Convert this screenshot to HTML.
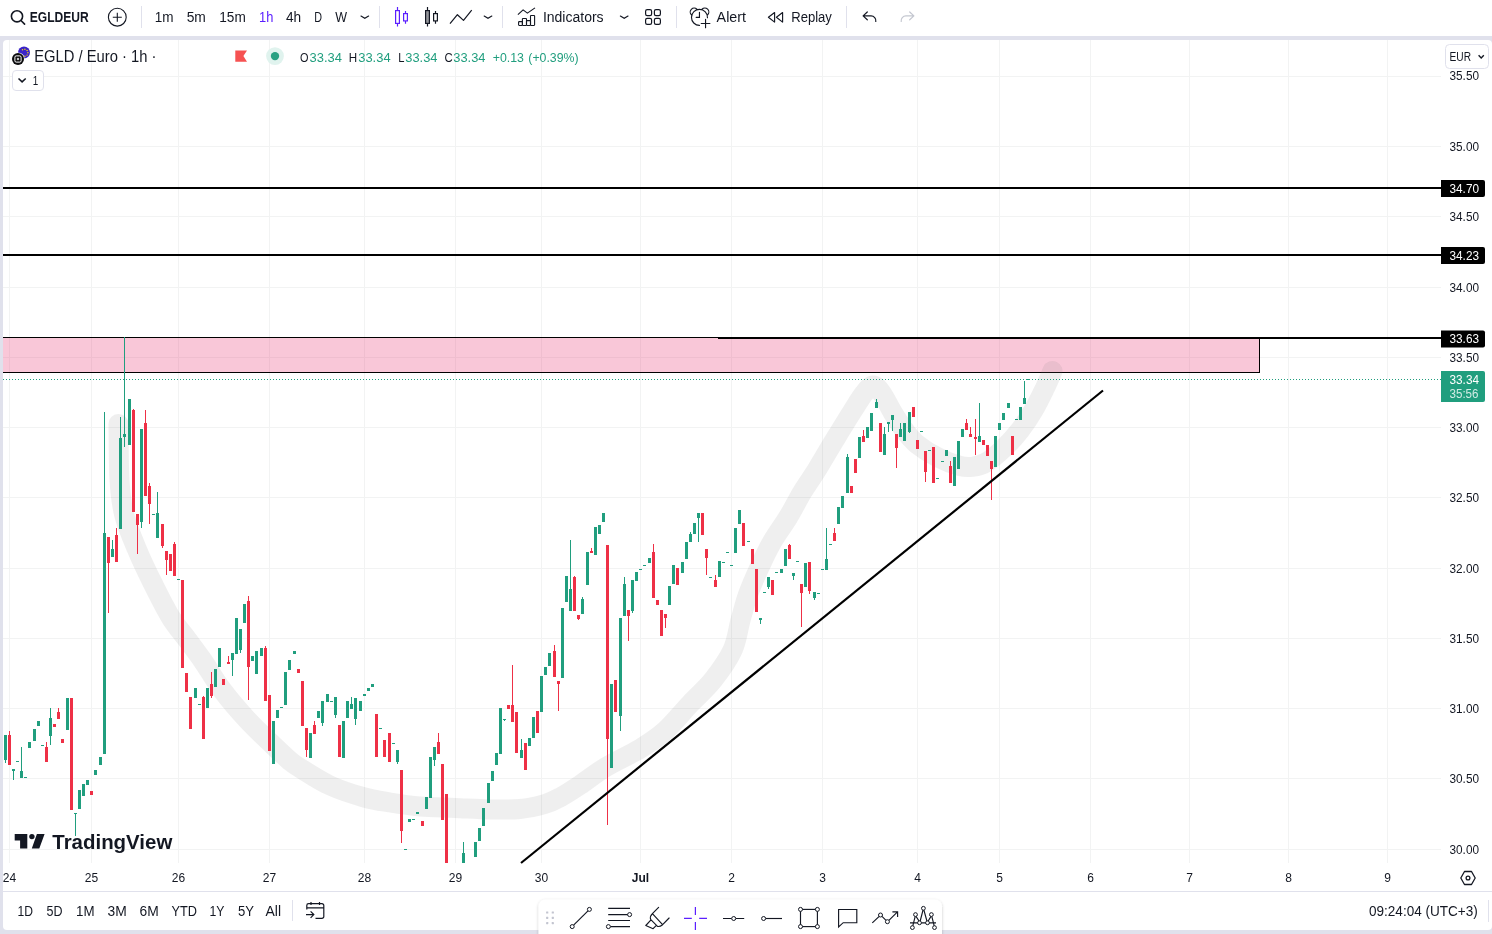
<!DOCTYPE html>
<html lang="en"><head><meta charset="utf-8"><title>EGLDEUR 33.34 — TradingView</title>
<style>
html,body{margin:0;padding:0}
body{width:1492px;height:934px;overflow:hidden;background:#e0e1ec;position:relative;font-family:"Liberation Sans", sans-serif;color:#131722}
.top{position:absolute;left:0;top:0;width:1492px;height:36px;background:#fff}
.pane{position:absolute;left:3px;top:40px;width:1489px;height:890px;background:#fff;border-radius:4px}
svg{position:absolute;display:block;will-change:transform}
svg.chart{left:0;top:0}
svg.tb{left:0;top:0}
svg.bt{left:0;top:891px}
svg.dt{left:530px;top:890px}
text{white-space:pre}
</style></head><body>
<div class="top"></div>
<div class="pane"></div>
<svg class="chart" width="1492" height="934" viewBox="0 0 1492 934" font-family='"Liberation Sans", sans-serif'>
<path d="M9.5 40V863 M91.5 40V863 M178.5 40V863 M269.5 40V863 M364.5 40V863 M455.5 40V863 M541.5 40V863 M640.5 40V863 M731.5 40V863 M822.5 40V863 M917.5 40V863 M999.5 40V863 M1090.5 40V863 M1189.5 40V863 M1288.5 40V863 M1387.5 40V863 M3 76.5H1441 M3 146.5H1441 M3 216.5H1441 M3 287.5H1441 M3 357.5H1441 M3 427.5H1441 M3 497.5H1441 M3 568.5H1441 M3 638.5H1441 M3 708.5H1441 M3 778.5H1441 M3 849.5H1441" stroke="rgba(42,56,57,0.06)" stroke-width="1" fill="none" shape-rendering="crispEdges"/>
<clipPath id="pane"><rect x="3" y="40" width="1438" height="823"/></clipPath>
<rect x="-6.5" y="337.5" width="1266" height="35" fill="rgba(233,30,99,0.25)" stroke="#000" stroke-width="1" shape-rendering="crispEdges" clip-path="url(#pane)"/>
<path d="M118.5 424.0C118.7 433.3 118.6 465.0 119.5 480.0C120.4 495.0 121.2 502.6 124.0 514.0C126.8 525.4 131.8 537.0 136.6 548.5C141.3 560.0 146.8 571.4 152.5 582.8C158.2 594.2 164.7 607.5 170.5 617.0C176.3 626.5 182.2 632.7 187.6 640.0C193.0 647.3 197.4 652.8 203.0 661.0C208.6 669.2 214.1 679.2 221.4 689.0C228.7 698.8 238.4 710.2 247.0 719.5C255.6 728.8 265.6 738.1 272.8 745.0C280.0 751.9 285.5 757.2 290.0 761.0C294.5 764.8 293.3 763.9 300.0 768.0C306.7 772.1 319.2 780.6 330.0 785.5C340.8 790.4 354.5 794.7 364.5 797.5C374.5 800.3 380.8 801.0 390.0 802.5C399.2 804.0 409.2 805.6 420.0 806.5C430.8 807.4 443.3 807.5 455.0 808.0C466.7 808.5 479.2 809.3 490.0 809.5C500.8 809.7 510.8 809.9 520.0 809.0C529.2 808.1 538.3 805.9 545.0 804.0C551.7 802.1 554.2 800.7 560.0 797.5C565.8 794.3 572.3 790.1 580.0 785.0C587.7 779.9 595.9 773.1 606.0 767.0C616.1 760.9 630.7 754.5 640.5 748.5C650.3 742.5 656.8 738.4 665.0 731.0C673.2 723.6 682.0 712.5 690.0 704.0C698.0 695.5 705.9 689.0 713.0 680.0C720.1 671.0 728.0 660.0 732.6 650.0C737.2 640.0 738.0 629.1 740.6 619.8C743.2 610.5 745.1 602.6 748.2 594.0C751.3 585.4 755.1 576.9 759.0 568.4C762.9 559.9 766.6 551.6 771.5 543.0C776.4 534.4 783.1 525.6 788.3 517.0C793.5 508.4 798.0 499.2 802.7 491.4C807.4 483.6 811.5 478.4 816.7 470.0C821.9 461.6 828.0 450.8 834.0 441.0C840.0 431.2 847.5 418.9 852.5 411.0C857.5 403.1 860.6 397.8 864.0 393.5C867.4 389.2 870.0 385.5 873.0 385.5C876.0 385.5 878.7 388.9 882.0 393.5C885.3 398.1 889.2 406.8 893.0 413.0C896.8 419.2 900.9 425.8 905.0 431.0C909.1 436.2 912.1 440.2 917.4 444.5C922.7 448.8 929.9 453.4 937.0 457.0C944.1 460.6 954.1 464.4 960.0 466.0C965.9 467.6 968.0 467.4 972.3 466.8C976.6 466.2 980.7 465.6 986.0 462.5C991.3 459.4 998.3 453.4 1004.0 448.0C1009.7 442.6 1015.2 436.4 1020.2 430.0C1025.2 423.6 1029.9 416.4 1034.0 409.4C1038.1 402.4 1041.9 394.4 1045.0 388.0C1048.1 381.6 1051.2 373.8 1052.5 371.0" fill="none" stroke="rgba(110,110,110,0.115)" stroke-width="20" stroke-linecap="round" stroke-linejoin="round"/>
<path d="M5 735h1V763h-1ZM4 735h3V760h-3ZM13 769h1V780h-1ZM12 769h3V771h-3ZM16 761h3V762h-3ZM21 747h1V778h-1ZM20 771h3V778h-3ZM24 777h3V778h-3ZM29 742h1V748h-1ZM28 742h3V748h-3ZM34 729h1V741h-1ZM33 729h3V741h-3ZM38 721h1V726h-1ZM37 721h3V726h-3ZM41 745h3V746h-3ZM50 708h1V745h-1ZM49 718h3V736h-3ZM67 698h1V730h-1ZM66 698h3V730h-3ZM75 813h1V836h-1ZM74 813h3V814h-3ZM79 790h1V809h-1ZM78 790h3V809h-3ZM83 784h1V796h-1ZM82 784h3V796h-3ZM87 780h1V785h-1ZM86 780h3V785h-3ZM95 770h1V775h-1ZM94 770h3V775h-3ZM100 757h1V765h-1ZM99 757h3V765h-3ZM104 412h1V754h-1ZM103 533h3V754h-3ZM112 540h1V557h-1ZM111 549h3V557h-3ZM120 417h1V529h-1ZM119 438h3V529h-3ZM124 337h1V447h-1ZM123 434h3V437h-3ZM129 399h1V445h-1ZM128 399h3V445h-3ZM141 429h1V528h-1ZM140 429h3V522h-3ZM152 514h3V515h-3ZM157 492h1V538h-1ZM156 513h3V538h-3ZM177 579h3V580h-3ZM195 688h1V698h-1ZM194 688h3V698h-3ZM198 704h3V705h-3ZM207 688h1V708h-1ZM206 688h3V708h-3ZM215 669h1V687h-1ZM214 669h3V687h-3ZM219 648h1V667h-1ZM218 648h3V667h-3ZM232 653h1V676h-1ZM231 653h3V660h-3ZM236 618h1V654h-1ZM235 618h3V654h-3ZM240 629h1V653h-1ZM239 629h3V650h-3ZM244 604h1V623h-1ZM243 604h3V623h-3ZM252 656h1V661h-1ZM251 656h3V661h-3ZM256 651h1V674h-1ZM255 651h3V674h-3ZM261 648h1V656h-1ZM260 648h3V656h-3ZM273 721h1V764h-1ZM272 721h3V764h-3ZM277 710h1V718h-1ZM276 710h3V718h-3ZM280 707h3V708h-3ZM285 672h1V705h-1ZM284 672h3V705h-3ZM289 660h1V670h-1ZM288 660h3V670h-3ZM294 651h1V654h-1ZM293 651h3V654h-3ZM310 733h1V758h-1ZM309 733h3V758h-3ZM318 711h1V718h-1ZM317 711h3V718h-3ZM322 701h1V726h-1ZM321 701h3V723h-3ZM327 694h1V702h-1ZM326 694h3V702h-3ZM330 701h3V702h-3ZM335 697h1V718h-1ZM334 697h3V715h-3ZM343 721h1V758h-1ZM342 721h3V758h-3ZM347 701h1V718h-1ZM346 701h3V718h-3ZM351 697h1V709h-1ZM350 704h3V709h-3ZM355 698h1V725h-1ZM354 698h3V719h-3ZM360 701h1V711h-1ZM359 701h3V711h-3ZM364 694h1V696h-1ZM363 694h3V696h-3ZM368 688h1V691h-1ZM367 688h3V691h-3ZM372 684h1V687h-1ZM371 684h3V687h-3ZM379 728h3V729h-3ZM392 743h3V744h-3ZM397 750h1V764h-1ZM396 750h3V762h-3ZM404 849h3V850h-3ZM409 819h1V822h-1ZM408 819h3V822h-3ZM412 819h3V820h-3ZM417 812h1V814h-1ZM416 812h3V814h-3ZM426 797h1V809h-1ZM425 797h3V809h-3ZM430 757h1V798h-1ZM429 757h3V798h-3ZM434 747h1V766h-1ZM433 747h3V760h-3ZM463 842h1V863h-1ZM462 853h3V863h-3ZM475 842h1V857h-1ZM474 842h3V857h-3ZM479 828h1V841h-1ZM478 828h3V841h-3ZM483 808h1V826h-1ZM482 808h3V826h-3ZM488 783h1V803h-1ZM487 783h3V803h-3ZM492 771h1V781h-1ZM491 771h3V781h-3ZM496 753h1V765h-1ZM495 753h3V765h-3ZM500 708h1V754h-1ZM499 708h3V754h-3ZM504 719h1V721h-1ZM503 719h3V720h-3ZM521 739h1V758h-1ZM520 750h3V758h-3ZM529 738h1V746h-1ZM528 738h3V746h-3ZM533 717h1V738h-1ZM532 717h3V738h-3ZM541 676h1V712h-1ZM540 676h3V712h-3ZM545 667h1V675h-1ZM544 667h3V675h-3ZM549 653h1V666h-1ZM548 653h3V666h-3ZM562 608h1V678h-1ZM561 608h3V678h-3ZM566 576h1V602h-1ZM565 576h3V602h-3ZM570 540h1V611h-1ZM569 589h3V611h-3ZM582 597h1V614h-1ZM581 599h3V614h-3ZM587 552h1V585h-1ZM586 552h3V585h-3ZM595 527h1V555h-1ZM594 527h3V555h-3ZM599 525h1V534h-1ZM598 525h3V534h-3ZM603 513h1V522h-1ZM602 513h3V522h-3ZM611 684h1V768h-1ZM610 684h3V768h-3ZM620 618h1V731h-1ZM619 618h3V716h-3ZM624 577h1V616h-1ZM623 584h3V616h-3ZM632 580h1V613h-1ZM631 580h3V611h-3ZM636 572h1V581h-1ZM635 572h3V581h-3ZM639 569h3V570h-3ZM643 565h3V566h-3ZM649 558h1V563h-1ZM648 558h3V563h-3ZM669 586h1V605h-1ZM668 586h3V605h-3ZM673 565h1V584h-1ZM672 565h3V584h-3ZM682 562h1V573h-1ZM681 562h3V573h-3ZM686 542h1V559h-1ZM685 542h3V559h-3ZM690 532h1V542h-1ZM689 534h3V542h-3ZM694 523h1V534h-1ZM693 523h3V534h-3ZM698 513h1V542h-1ZM697 513h3V518h-3ZM709 577h3V578h-3ZM719 561h1V577h-1ZM718 561h3V577h-3ZM722 562h3V563h-3ZM726 552h3V553h-3ZM730 565h3V566h-3ZM735 528h1V553h-1ZM734 528h3V553h-3ZM739 510h1V524h-1ZM738 510h3V524h-3ZM747 541h3V542h-3ZM760 618h1V624h-1ZM759 618h3V620h-3ZM763 592h3V593h-3ZM768 577h1V589h-1ZM767 577h3V587h-3ZM775 572h3V573h-3ZM781 569h1V573h-1ZM780 569h3V573h-3ZM785 549h1V566h-1ZM784 549h3V566h-3ZM793 573h1V580h-1ZM792 573h3V576h-3ZM796 561h3V562h-3ZM805 563h1V587h-1ZM804 563h3V587h-3ZM814 592h1V600h-1ZM813 592h3V598h-3ZM817 593h3V594h-3ZM821 569h3V570h-3ZM826 528h1V570h-1ZM825 559h3V570h-3ZM829 544h3V545h-3ZM838 507h1V524h-1ZM837 507h3V524h-3ZM842 496h1V508h-1ZM841 496h3V508h-3ZM847 454h1V493h-1ZM846 457h3V493h-3ZM859 437h1V458h-1ZM858 437h3V458h-3ZM867 427h1V438h-1ZM866 427h3V438h-3ZM871 413h1V431h-1ZM870 413h3V431h-3ZM876 399h1V408h-1ZM875 402h3V408h-3ZM884 427h1V455h-1ZM883 434h3V455h-3ZM888 422h1V432h-1ZM887 422h3V424h-3ZM892 415h1V431h-1ZM891 415h3V420h-3ZM900 423h1V437h-1ZM899 429h3V437h-3ZM904 423h1V441h-1ZM903 423h3V441h-3ZM909 412h1V433h-1ZM908 412h3V432h-3ZM920 431h3V432h-3ZM928 450h3V451h-3ZM936 478h3V479h-3ZM941 461h3V462h-3ZM946 450h1V456h-1ZM945 450h3V456h-3ZM954 457h1V486h-1ZM953 457h3V486h-3ZM958 441h1V469h-1ZM957 441h3V469h-3ZM962 429h1V437h-1ZM961 429h3V437h-3ZM979 403h1V442h-1ZM978 436h3V442h-3ZM995 436h1V467h-1ZM994 436h3V467h-3ZM999 423h1V430h-1ZM998 423h3V430h-3ZM1003 413h1V420h-1ZM1002 413h3V420h-3ZM1008 403h1V408h-1ZM1007 403h3V408h-3ZM1015 419h3V420h-3ZM1020 407h1V420h-1ZM1019 407h3V420h-3ZM1024 381h1V404h-1ZM1023 398h3V404h-3Z" fill="#209e7e" shape-rendering="crispEdges"/>
<path d="M9 731h1V765h-1ZM8 735h3V765h-3ZM46 742h1V762h-1ZM45 747h3V762h-3ZM54 724h1V727h-1ZM53 724h3V727h-3ZM58 708h1V719h-1ZM57 712h3V719h-3ZM62 739h1V743h-1ZM61 739h3V743h-3ZM71 698h1V810h-1ZM70 698h3V810h-3ZM91 791h1V795h-1ZM90 791h3V795h-3ZM108 537h1V613h-1ZM107 537h3V563h-3ZM116 528h1V562h-1ZM115 535h3V562h-3ZM133 409h1V512h-1ZM132 410h3V512h-3ZM137 514h1V554h-1ZM136 514h3V525h-3ZM145 410h1V496h-1ZM144 423h3V496h-3ZM149 483h1V524h-1ZM148 486h3V504h-3ZM162 524h1V548h-1ZM161 524h3V546h-3ZM166 551h1V575h-1ZM165 551h3V560h-3ZM170 554h1V571h-1ZM169 554h3V571h-3ZM174 542h1V576h-1ZM173 544h3V576h-3ZM182 580h1V668h-1ZM181 580h3V668h-3ZM186 673h1V692h-1ZM185 673h3V692h-3ZM190 697h1V729h-1ZM189 697h3V729h-3ZM203 696h1V739h-1ZM202 697h3V739h-3ZM211 672h1V698h-1ZM210 684h3V696h-3ZM223 679h1V685h-1ZM222 679h3V685h-3ZM228 656h1V664h-1ZM227 662h3V664h-3ZM248 596h1V700h-1ZM247 601h3V667h-3ZM265 646h1V701h-1ZM264 648h3V701h-3ZM269 695h1V751h-1ZM268 695h3V751h-3ZM298 669h1V673h-1ZM297 669h3V673h-3ZM302 681h1V726h-1ZM301 681h3V726h-3ZM306 728h1V757h-1ZM305 728h3V750h-3ZM314 721h1V734h-1ZM313 725h3V734h-3ZM339 725h1V757h-1ZM338 725h3V757h-3ZM376 714h1V757h-1ZM375 714h3V757h-3ZM384 740h1V757h-1ZM383 740h3V757h-3ZM389 733h1V762h-1ZM388 733h3V762h-3ZM401 770h1V843h-1ZM400 770h3V831h-3ZM422 821h1V826h-1ZM421 821h3V826h-3ZM438 733h1V754h-1ZM437 742h3V754h-3ZM442 764h1V820h-1ZM441 764h3V820h-3ZM446 794h1V863h-1ZM445 794h3V863h-3ZM508 705h1V709h-1ZM507 705h3V709h-3ZM512 665h1V722h-1ZM511 705h3V722h-3ZM516 712h1V753h-1ZM515 712h3V753h-3ZM525 743h1V770h-1ZM524 743h3V770h-3ZM537 711h1V733h-1ZM536 711h3V733h-3ZM554 645h1V677h-1ZM553 651h3V677h-3ZM558 681h1V711h-1ZM557 681h3V684h-3ZM574 576h1V611h-1ZM573 577h3V611h-3ZM578 615h1V620h-1ZM577 615h3V619h-3ZM591 548h1V553h-1ZM590 551h3V553h-3ZM607 545h1V825h-1ZM606 545h3V739h-3ZM615 680h1V712h-1ZM614 680h3V712h-3ZM628 610h1V641h-1ZM627 610h3V616h-3ZM653 544h1V598h-1ZM652 552h3V598h-3ZM657 600h1V605h-1ZM656 600h3V605h-3ZM661 610h1V636h-1ZM660 610h3V636h-3ZM665 614h1V628h-1ZM664 614h3V618h-3ZM677 568h1V585h-1ZM676 568h3V585h-3ZM702 513h1V535h-1ZM701 513h3V535h-3ZM706 549h1V575h-1ZM705 549h3V558h-3ZM715 575h1V587h-1ZM714 580h3V587h-3ZM743 523h1V546h-1ZM742 523h3V546h-3ZM752 549h1V564h-1ZM751 549h3V564h-3ZM756 569h1V612h-1ZM755 569h3V612h-3ZM772 580h1V595h-1ZM771 580h3V595h-3ZM789 544h1V559h-1ZM788 545h3V559h-3ZM801 584h1V627h-1ZM800 584h3V593h-3ZM809 562h1V594h-1ZM808 562h3V591h-3ZM834 528h1V541h-1ZM833 533h3V541h-3ZM851 486h1V493h-1ZM850 486h3V493h-3ZM855 459h1V473h-1ZM854 459h3V473h-3ZM863 430h1V442h-1ZM862 436h3V442h-3ZM880 423h1V452h-1ZM879 423h3V452h-3ZM896 434h1V468h-1ZM895 434h3V448h-3ZM913 407h1V417h-1ZM912 407h3V417h-3ZM917 440h1V449h-1ZM916 440h3V449h-3ZM925 451h1V482h-1ZM924 451h3V472h-3ZM933 447h1V483h-1ZM932 447h3V483h-3ZM950 461h1V483h-1ZM949 466h3V483h-3ZM966 419h1V430h-1ZM965 423h3V430h-3ZM970 427h1V437h-1ZM969 434h3V437h-3ZM975 419h1V455h-1ZM974 437h3V439h-3ZM983 440h1V445h-1ZM982 440h3V445h-3ZM987 445h1V456h-1ZM986 445h3V456h-3ZM991 461h1V500h-1ZM990 461h3V469h-3ZM1012 436h1V455h-1ZM1011 436h3V455h-3Z" fill="#ee3046" shape-rendering="crispEdges"/>
<path d="M3 188H1441M3 255H1441M718 338H1441" stroke="#000" stroke-width="2" fill="none" shape-rendering="crispEdges"/>
<path d="M521 863L1103 390.5" stroke="#000" stroke-width="2.2" fill="none"/>
<path d="M3 379.5H1441" stroke="#209e7e" stroke-width="1" stroke-dasharray="1 2" fill="none" shape-rendering="crispEdges"/>
<rect x="1026" y="379" width="4" height="1" fill="#209e7e" shape-rendering="crispEdges"/>
<text x="1449.5" y="80.1" font-size="12" fill="#131722" textLength="29.5" lengthAdjust="spacingAndGlyphs">35.50</text>
<text x="1449.5" y="150.8" font-size="12" fill="#131722" textLength="29.5" lengthAdjust="spacingAndGlyphs">35.00</text>
<text x="1449.5" y="220.8" font-size="12" fill="#131722" textLength="29.5" lengthAdjust="spacingAndGlyphs">34.50</text>
<text x="1449.5" y="291.8" font-size="12" fill="#131722" textLength="29.5" lengthAdjust="spacingAndGlyphs">34.00</text>
<text x="1449.5" y="361.8" font-size="12" fill="#131722" textLength="29.5" lengthAdjust="spacingAndGlyphs">33.50</text>
<text x="1449.5" y="431.8" font-size="12" fill="#131722" textLength="29.5" lengthAdjust="spacingAndGlyphs">33.00</text>
<text x="1449.5" y="501.8" font-size="12" fill="#131722" textLength="29.5" lengthAdjust="spacingAndGlyphs">32.50</text>
<text x="1449.5" y="572.8" font-size="12" fill="#131722" textLength="29.5" lengthAdjust="spacingAndGlyphs">32.00</text>
<text x="1449.5" y="642.8" font-size="12" fill="#131722" textLength="29.5" lengthAdjust="spacingAndGlyphs">31.50</text>
<text x="1449.5" y="712.8" font-size="12" fill="#131722" textLength="29.5" lengthAdjust="spacingAndGlyphs">31.00</text>
<text x="1449.5" y="782.8" font-size="12" fill="#131722" textLength="29.5" lengthAdjust="spacingAndGlyphs">30.50</text>
<text x="1449.5" y="853.8" font-size="12" fill="#131722" textLength="29.5" lengthAdjust="spacingAndGlyphs">30.00</text>
<path d="M1441 180h42a2 2 0 0 1 2 2v13a2 2 0 0 1 -2 2h-42z" fill="#000"/>
<text x="1449.5" y="192.6" font-size="12" fill="#fff" textLength="29.5" lengthAdjust="spacingAndGlyphs">34.70</text>
<path d="M1441 247h42a2 2 0 0 1 2 2v13a2 2 0 0 1 -2 2h-42z" fill="#000"/>
<text x="1449.5" y="259.6" font-size="12" fill="#fff" textLength="29.5" lengthAdjust="spacingAndGlyphs">34.23</text>
<path d="M1441 330.5h42a2 2 0 0 1 2 2v13a2 2 0 0 1 -2 2h-42z" fill="#000"/>
<text x="1449.5" y="343.1" font-size="12" fill="#fff" textLength="29.5" lengthAdjust="spacingAndGlyphs">33.63</text>
<path d="M1441 371h42a2 2 0 0 1 2 2v27a2 2 0 0 1 -2 2h-42z" fill="#209e7e"/>
<text x="1449.5" y="384.3" font-size="12" fill="#fff" textLength="29.5" lengthAdjust="spacingAndGlyphs">33.34</text>
<text x="1449.5" y="398.3" font-size="12" fill="rgba(255,255,255,0.8)" textLength="29" lengthAdjust="spacingAndGlyphs">35:56</text>
<rect x="1445.5" y="44.5" width="43" height="24" rx="4" fill="#fff" stroke="#e0e1ec"/>
<text x="1449.5" y="61" font-size="12" fill="#131722" textLength="21.5" lengthAdjust="spacingAndGlyphs">EUR</text>
<path d="M1478.6 55.3l2.6 2.6l2.6 -2.6" stroke="#131722" stroke-width="1.4" fill="none"/>
<text x="9.5" y="882" font-size="12" fill="#131722" text-anchor="middle">24</text>
<text x="91.5" y="882" font-size="12" fill="#131722" text-anchor="middle">25</text>
<text x="178.5" y="882" font-size="12" fill="#131722" text-anchor="middle">26</text>
<text x="269.5" y="882" font-size="12" fill="#131722" text-anchor="middle">27</text>
<text x="364.5" y="882" font-size="12" fill="#131722" text-anchor="middle">28</text>
<text x="455.5" y="882" font-size="12" fill="#131722" text-anchor="middle">29</text>
<text x="541.5" y="882" font-size="12" fill="#131722" text-anchor="middle">30</text>
<text x="640.5" y="882" font-size="12" fill="#131722" font-weight="bold" text-anchor="middle">Jul</text>
<text x="731.5" y="882" font-size="12" fill="#131722" text-anchor="middle">2</text>
<text x="822.5" y="882" font-size="12" fill="#131722" text-anchor="middle">3</text>
<text x="917.5" y="882" font-size="12" fill="#131722" text-anchor="middle">4</text>
<text x="999.5" y="882" font-size="12" fill="#131722" text-anchor="middle">5</text>
<text x="1090.5" y="882" font-size="12" fill="#131722" text-anchor="middle">6</text>
<text x="1189.5" y="882" font-size="12" fill="#131722" text-anchor="middle">7</text>
<text x="1288.5" y="882" font-size="12" fill="#131722" text-anchor="middle">8</text>
<text x="1387.5" y="882" font-size="12" fill="#131722" text-anchor="middle">9</text>
<path d="M1464.5 871.5h7l3.7 6.5l-3.7 6.5h-7l-3.7 -6.5z" stroke="#131722" stroke-width="1.3" fill="none" stroke-linejoin="round"/><circle cx="1468" cy="878" r="1.9" stroke="#131722" stroke-width="1.3" fill="none"/>
<path d="M3 891.5H1492" stroke="#e0e1ec" stroke-width="1" shape-rendering="crispEdges"/>
<path d="M14.7 834h12.6v14.5h-7.2v-8.1h-5.4zM36.9 834h7.7l-5.3 14.5h-7.5z" fill="#131722"/><circle cx="31.9" cy="836.6" r="2.7" fill="#131722"/>
<text x="52.3" y="848.5" font-size="20" fill="#131722" textLength="120" lengthAdjust="spacingAndGlyphs" font-weight="bold">TradingView</text>
<circle cx="24" cy="52.5" r="6" fill="#3a23c9"/>
<circle cx="22.5" cy="49.7" r="0.7" fill="#ffe000"/>
<circle cx="24.9" cy="49.3" r="0.7" fill="#ffe000"/>
<circle cx="27.1" cy="50.5" r="0.7" fill="#ffe000"/>
<circle cx="27.9" cy="52.8" r="0.7" fill="#ffe000"/>
<circle cx="27.1" cy="55.1" r="0.7" fill="#ffe000"/>
<circle cx="24.9" cy="56.3" r="0.7" fill="#ffe000"/>
<circle cx="18" cy="59" r="6.6" fill="#fff"/><circle cx="18" cy="59" r="6" fill="#0b0b0d"/>
<rect x="14.9" y="55.9" width="6.2" height="6.2" rx="1.3" stroke="#fff" stroke-width="1" fill="none"/><rect x="16.9" y="57.9" width="2.2" height="2.2" fill="#fff" opacity="0.75"/>
<text x="34.2" y="61.7" font-size="16" fill="#131722" textLength="122.2" lengthAdjust="spacingAndGlyphs">EGLD / Euro · 1h ·</text>
<path d="M235.3 50.5h11.7l-3.6 5.6l3.6 5.6h-11.7z" fill="#f65252"/>
<circle cx="275" cy="56.1" r="8.9" fill="#e0f3ee"/><circle cx="275" cy="56.1" r="4.2" fill="#28a182"/>
<text x="300" y="61.7" font-size="13" fill="#131722" textLength="8.5" lengthAdjust="spacingAndGlyphs">O</text>
<text x="309.5" y="61.7" font-size="13" fill="#209e7e" textLength="32.4" lengthAdjust="spacingAndGlyphs">33.34</text>
<text x="348.7" y="61.7" font-size="13" fill="#131722" textLength="8.4" lengthAdjust="spacingAndGlyphs">H</text>
<text x="358.2" y="61.7" font-size="13" fill="#209e7e" textLength="32.4" lengthAdjust="spacingAndGlyphs">33.34</text>
<text x="398.2" y="61.7" font-size="13" fill="#131722" textLength="6.2" lengthAdjust="spacingAndGlyphs">L</text>
<text x="405.3" y="61.7" font-size="13" fill="#209e7e" textLength="32.2" lengthAdjust="spacingAndGlyphs">33.34</text>
<text x="444.4" y="61.7" font-size="13" fill="#131722" textLength="8.2" lengthAdjust="spacingAndGlyphs">C</text>
<text x="453.3" y="61.7" font-size="13" fill="#209e7e" textLength="32.2" lengthAdjust="spacingAndGlyphs">33.34</text>
<text x="492.7" y="61.7" font-size="13" fill="#209e7e" textLength="31.2" lengthAdjust="spacingAndGlyphs">+0.13</text>
<text x="528.3" y="61.7" font-size="13" fill="#209e7e" textLength="50.3" lengthAdjust="spacingAndGlyphs">(+0.39%)</text>
<rect x="12.5" y="70.5" width="31" height="20" rx="3.5" fill="#fff" stroke="#e0e1ec"/>
<path d="M18.5 78.5l3.6 3.4l3.6 -3.4" stroke="#131722" stroke-width="1.5" fill="none"/>
<text x="32.8" y="85" font-size="13" fill="#131722" textLength="5.5" lengthAdjust="spacingAndGlyphs">1</text>
</svg>
<svg class="tb" width="1492" height="36" viewBox="0 0 1492 36" font-family='"Liberation Sans", sans-serif'>
<circle cx="17" cy="16.3" r="5.6" stroke="#131722" stroke-width="1.6" fill="none"/><path d="M21 20.5l3.6 3.6" stroke="#131722" stroke-width="1.6" stroke-linecap="round"/>
<text x="29.8" y="21.8" font-size="14" fill="#131722" textLength="59" lengthAdjust="spacingAndGlyphs" font-weight="bold">EGLDEUR</text>
<circle cx="117.3" cy="17.2" r="8.9" stroke="#131722" stroke-width="1.1" fill="none"/><path d="M112.8 17.2h9M117.3 12.7v9" stroke="#131722" stroke-width="1.1"/>
<path d="M141.5 6V28" stroke="#e0e1ec" stroke-width="1" shape-rendering="crispEdges"/>
<path d="M379.5 6V28" stroke="#e0e1ec" stroke-width="1" shape-rendering="crispEdges"/>
<path d="M502.5 6V28" stroke="#e0e1ec" stroke-width="1" shape-rendering="crispEdges"/>
<path d="M676.5 6V28" stroke="#e0e1ec" stroke-width="1" shape-rendering="crispEdges"/>
<path d="M846.5 6V28" stroke="#e0e1ec" stroke-width="1" shape-rendering="crispEdges"/>
<text x="154.8" y="21.8" font-size="14" fill="#131722" textLength="18.8" lengthAdjust="spacingAndGlyphs">1m</text>
<text x="186.7" y="21.8" font-size="14" fill="#131722" textLength="19.2" lengthAdjust="spacingAndGlyphs">5m</text>
<text x="219.3" y="21.8" font-size="14" fill="#131722" textLength="26.5" lengthAdjust="spacingAndGlyphs">15m</text>
<text x="259" y="21.8" font-size="14" fill="#5b1fff" textLength="14.3" lengthAdjust="spacingAndGlyphs">1h</text>
<text x="286" y="21.8" font-size="14" fill="#131722" textLength="15.2" lengthAdjust="spacingAndGlyphs">4h</text>
<text x="314.3" y="21.8" font-size="14" fill="#131722" textLength="7.8" lengthAdjust="spacingAndGlyphs">D</text>
<text x="335.2" y="21.8" font-size="14" fill="#131722" textLength="11.8" lengthAdjust="spacingAndGlyphs">W</text>
<path d="M361.0 16.099999999999998l3.8 2.2l3.8 -2.2" stroke="#131722" stroke-width="1.2" fill="none" stroke-linecap="round"/>
<path d="M484.2 16.099999999999998l3.8 2.2l3.8 -2.2" stroke="#131722" stroke-width="1.2" fill="none" stroke-linecap="round"/>
<path d="M620.4000000000001 16.099999999999998l3.8 2.2l3.8 -2.2" stroke="#131722" stroke-width="1.2" fill="none" stroke-linecap="round"/>
<path d="M397.5 7v3.5M397.5 23.5v3M405.5 11v2.5M405.5 21v2.7" stroke="#5b1fff" stroke-width="1.2"/><rect x="395.6" y="10.6" width="3.8" height="12.8" stroke="#5b1fff" stroke-width="1.2" fill="none"/><rect x="403.6" y="13.6" width="3.8" height="7.3" stroke="#5b1fff" stroke-width="1.2" fill="none"/>
<path d="M427.5 7v3.5M427.5 23.5v3M435.5 11v2.5M435.5 21v2.7" stroke="#131722" stroke-width="1.2"/><rect x="425.6" y="10.6" width="3.8" height="12.8" stroke="#131722" stroke-width="1.2" fill="rgba(19,23,34,0.45)"/><rect x="433.6" y="13.6" width="3.8" height="7.3" stroke="#131722" stroke-width="1.2" fill="none"/>
<path d="M450 23.7L457.4 14.7L463.5 20.4L471.7 10.1" stroke="#131722" stroke-width="1.2" fill="none" stroke-linejoin="round"/>
<path d="M517.9 14.7l5.2 -4.8l4.3 3.2l7.6 -5.2" stroke="#131722" stroke-width="1.15" fill="none" stroke-linejoin="round"/>
<rect x="518.6" y="21.6" width="3.8" height="3.85" rx="0.6" stroke="#131722" stroke-width="1.1" fill="none"/>
<rect x="522.4" y="18.5" width="4.1" height="6.95" rx="0.6" stroke="#131722" stroke-width="1.1" fill="none"/>
<rect x="526.5" y="20.6" width="4.0" height="4.85" rx="0.6" stroke="#131722" stroke-width="1.1" fill="none"/>
<rect x="530.5" y="15.5" width="4.1" height="9.95" rx="0.6" stroke="#131722" stroke-width="1.1" fill="none"/>
<text x="542.9" y="21.8" font-size="14" fill="#131722" textLength="60.7" lengthAdjust="spacingAndGlyphs">Indicators</text>
<rect x="645.6" y="9.6" width="6" height="6" rx="1.6" stroke="#131722" stroke-width="1.2" fill="none"/>
<rect x="654.4" y="9.6" width="6" height="6" rx="1.6" stroke="#131722" stroke-width="1.2" fill="none"/>
<rect x="645.6" y="18.4" width="6" height="6" rx="1.6" stroke="#131722" stroke-width="1.2" fill="none"/>
<rect x="654.4" y="18.4" width="6" height="6" rx="1.6" stroke="#131722" stroke-width="1.2" fill="none"/>
<path d="M699.46 25.4A8 8 0 1 1 707.46 17.7M691.4 14.85A3.9 3.9 0 0 1 696.9 9.2M702 9.2A3.9 3.9 0 0 1 707.65 14.85M699.46 12.3V17.4H696.2M701.2 23.46H709.9M705.56 19.35V27.7" stroke="#131722" stroke-width="1.15" fill="none" stroke-linecap="round"/>
<text x="716.6" y="21.8" font-size="14" fill="#131722" textLength="29.4" lengthAdjust="spacingAndGlyphs">Alert</text>
<path d="M774.6 12.5v9.6l-6.2 -4.8zM782.6 12.5v9.6l-6.2 -4.8z" stroke="#131722" stroke-width="1.15" fill="none" stroke-linejoin="round"/>
<text x="791.2" y="21.8" font-size="14" fill="#131722" textLength="40.7" lengthAdjust="spacingAndGlyphs">Replay</text>
<path d="M867.3 12l-4.2 3.9l4.2 3.9M863.4 15.9h7.6a4.8 4.8 0 0 1 4.8 5.6" stroke="#131722" stroke-width="1.2" fill="none" stroke-linecap="round" stroke-linejoin="round"/>
<path d="M909.7 12l4.2 3.9l-4.2 3.9M913.6 15.9h-7.6a4.8 4.8 0 0 0 -4.8 5.6" stroke="#c4c7d0" stroke-width="1.2" fill="none" stroke-linecap="round" stroke-linejoin="round"/>
</svg>
<svg class="bt" width="1492" height="43" viewBox="0 891 1492 43" font-family='"Liberation Sans", sans-serif'>
<text x="17.5" y="915.7" font-size="14" fill="#131722" textLength="15.5" lengthAdjust="spacingAndGlyphs">1D</text>
<text x="46.5" y="915.7" font-size="14" fill="#131722" textLength="16" lengthAdjust="spacingAndGlyphs">5D</text>
<text x="76" y="915.7" font-size="14" fill="#131722" textLength="18.5" lengthAdjust="spacingAndGlyphs">1M</text>
<text x="107.5" y="915.7" font-size="14" fill="#131722" textLength="19.2" lengthAdjust="spacingAndGlyphs">3M</text>
<text x="139.5" y="915.7" font-size="14" fill="#131722" textLength="19.2" lengthAdjust="spacingAndGlyphs">6M</text>
<text x="171.5" y="915.7" font-size="14" fill="#131722" textLength="25.5" lengthAdjust="spacingAndGlyphs">YTD</text>
<text x="209.5" y="915.7" font-size="14" fill="#131722" textLength="15" lengthAdjust="spacingAndGlyphs">1Y</text>
<text x="238" y="915.7" font-size="14" fill="#131722" textLength="16" lengthAdjust="spacingAndGlyphs">5Y</text>
<text x="265.5" y="915.7" font-size="14" fill="#131722" textLength="15.5" lengthAdjust="spacingAndGlyphs">All</text>
<path d="M292.5 900V921" stroke="#e0e1ec" stroke-width="1" shape-rendering="crispEdges"/>
<path d="M1488.5 900V922" stroke="#e0e1ec" stroke-width="1" shape-rendering="crispEdges"/>
<path d="M311 902v3M319.5 902v3M306.8 909.5v-4a1.8 1.8 0 0 1 1.8 -1.8h13.4a1.8 1.8 0 0 1 1.8 1.8v11a1.8 1.8 0 0 1 -1.8 1.8h-6.5M306.8 907.8h17M306 914.6h7.6M310.6 911.4l3.2 3.2l-3.2 3.2" stroke="#131722" stroke-width="1.2" fill="none"/>
<text x="1369" y="915.7" font-size="14" fill="#131722" textLength="108.8" lengthAdjust="spacingAndGlyphs">09:24:04 (UTC+3)</text>
</svg>
<svg class="dt" width="420" height="50" viewBox="530 890 420 50">
<defs><filter id="sh" x="-5%" y="-30%" width="110%" height="160%"><feDropShadow dx="0" dy="1" stdDeviation="1.6" flood-color="#000" flood-opacity="0.22"/></filter></defs>
<rect x="538.5" y="899.5" width="403.5" height="50" rx="7" fill="#fff" filter="url(#sh)"/>
<rect x="546.1" y="911.4" width="2.2" height="2.2" rx="0.4" fill="#c3c5d0"/>
<rect x="546.1" y="916.7" width="2.2" height="2.2" rx="0.4" fill="#c3c5d0"/>
<rect x="546.1" y="922.0" width="2.2" height="2.2" rx="0.4" fill="#c3c5d0"/>
<rect x="551.7" y="911.4" width="2.2" height="2.2" rx="0.4" fill="#c3c5d0"/>
<rect x="551.7" y="916.7" width="2.2" height="2.2" rx="0.4" fill="#c3c5d0"/>
<rect x="551.7" y="922.0" width="2.2" height="2.2" rx="0.4" fill="#c3c5d0"/>
<path d="M573.6 925.2L588 910.8" stroke="#131722" stroke-width="1.15" fill="none"/><circle cx="589.4" cy="909.4" r="2" stroke="#131722" stroke-width="1" fill="#fff"/><circle cx="572.2" cy="926.6" r="2" stroke="#131722" stroke-width="1" fill="#fff"/>
<path d="M608.2 908.4H630M608.2 914.6H628M608.2 920.5H630M610.4 926.6H630" stroke="#131722" stroke-width="1.15" fill="none"/><circle cx="629.6" cy="914.6" r="2" stroke="#131722" stroke-width="1" fill="#fff"/><circle cx="608.4" cy="926.6" r="2" stroke="#131722" stroke-width="1" fill="#fff"/>
<path d="M658.6 907.3L652.4 913.6L662.6 924.7M669.1 918L662.6 924.7C661 926 659 926.7 657.5 926.4L650.6 919.3C650 917.5 651 915 652.4 913.6M651 919.8L645.8 925.5L653.1 928.7L656.4 925.3" stroke="#131722" stroke-width="1.15" fill="none" stroke-linejoin="round" stroke-linecap="round"/>
<path d="M684 918.4h7.8M699.2 918.4h7.8M695.4 907v7.9M695.4 922v7.9" stroke="#5b1fff" stroke-width="1.2" fill="none"/>
<path d="M723 918.5h8.6M735.8 918.5h8.4" stroke="#131722" stroke-width="1.15" fill="none"/><circle cx="733.7" cy="918.5" r="2" stroke="#131722" stroke-width="1" fill="#fff"/>
<path d="M765.6 918.5h16.4" stroke="#131722" stroke-width="1.15" fill="none"/><circle cx="763.6" cy="918.5" r="2" stroke="#131722" stroke-width="1" fill="#fff"/>
<rect x="800.5" y="909.4" width="16.9" height="17.2" stroke="#131722" stroke-width="1.15" fill="none"/><circle cx="800.5" cy="909.4" r="2" stroke="#131722" stroke-width="1" fill="#fff"/><circle cx="800.5" cy="926.6" r="2" stroke="#131722" stroke-width="1" fill="#fff"/><circle cx="817.4" cy="909.4" r="2" stroke="#131722" stroke-width="1" fill="#fff"/><circle cx="817.4" cy="926.6" r="2" stroke="#131722" stroke-width="1" fill="#fff"/>
<path d="M838.6 909.5h18.2v13.2h-13.6l-4.6 4.2z" stroke="#131722" stroke-width="1.15" fill="none"/>
<path d="M872.3 922.8l6.9 -6.5M882 916.4l4 3.9M888.9 920.3l8.6 -8.4M892.4 911.8h5.2v5.2" stroke="#131722" stroke-width="1.15" fill="none"/><circle cx="880.5" cy="915" r="2" stroke="#131722" stroke-width="1" fill="#fff"/><circle cx="887.4" cy="921.7" r="2" stroke="#131722" stroke-width="1" fill="#fff"/>
<path d="M910 922.8h26M912.8 925.8l2.4 -9.4M916 916.4l3 4.6M920.2 921l2.8 -10.8M923.9 910.2l3 10.8M928.2 921l2.8 -4.6M931.8 916.4l2.4 9.4" stroke="#131722" stroke-width="1.15" fill="none"/><circle cx="912.4" cy="927.6" r="1.9" stroke="#131722" stroke-width="1" fill="#fff"/><circle cx="915.5" cy="914.6" r="1.9" stroke="#131722" stroke-width="1" fill="#fff"/><circle cx="919.5" cy="922.8" r="1.9" stroke="#131722" stroke-width="1" fill="#fff"/><circle cx="923.4" cy="908.3" r="1.9" stroke="#131722" stroke-width="1" fill="#fff"/><circle cx="927.5" cy="922.8" r="1.9" stroke="#131722" stroke-width="1" fill="#fff"/><circle cx="931.4" cy="914.6" r="1.9" stroke="#131722" stroke-width="1" fill="#fff"/><circle cx="934.5" cy="927.6" r="1.9" stroke="#131722" stroke-width="1" fill="#fff"/>
</svg>
</body></html>
